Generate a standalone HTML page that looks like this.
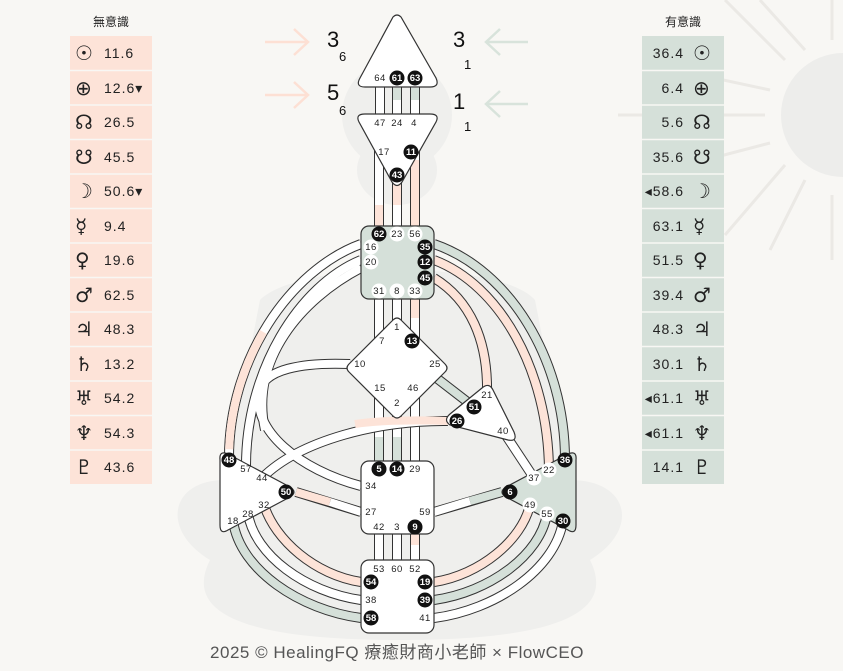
<!DOCTYPE html>
<html><head><meta charset="utf-8"><style>
body{margin:0;background:#f8f7f4;width:843px;height:671px;overflow:hidden;font-family:"Liberation Sans","Noto Sans CJK TC",sans-serif}
svg{position:absolute;left:0;top:0}
.o{fill:none;stroke:#333;stroke-width:10}
.i{fill:none;stroke:#fff;stroke-width:8}
.p{fill:none;stroke:#fde3d8;stroke-width:8}
.g{fill:none;stroke:#d5e0d9;stroke-width:8}
.t{font-size:9.5px;fill:#222;text-anchor:middle;letter-spacing:.5px}
.b{font-size:9.5px;fill:#fff;text-anchor:middle;font-weight:bold}
.c{fill:#fff;stroke:#333;stroke-width:1.2}
.col text{font-size:14px;fill:#222;letter-spacing:1px}
</style></head><body>
<svg width="843" height="671" viewBox="0 0 843 671">
<!-- sun -->
<g stroke="#ebe9e5" stroke-width="3">
<line x1="725" y1="0" x2="785" y2="60"/><line x1="760" y1="0" x2="805" y2="50"/>
<line x1="618" y1="115" x2="765" y2="115"/><line x1="700" y1="75" x2="770" y2="90"/>
<line x1="725" y1="235" x2="785" y2="165"/><line x1="770" y1="250" x2="805" y2="180"/>
<line x1="705" y1="160" x2="770" y2="143"/>
<line x1="832" y1="195" x2="832" y2="260"/><line x1="832" y1="0" x2="832" y2="40"/>
</g>
<circle cx="843" cy="115" r="62" fill="#ededeb"/>
<!-- silhouette -->
<g fill="#efefed">
<circle cx="397" cy="115" r="55"/>
<ellipse cx="397" cy="170" rx="40" ry="35"/>
<path d="M260,300 C300,260 500,260 535,300 L570,480 C630,480 640,530 590,560 C610,600 590,640 400,640 C210,640 190,600 210,560 C160,530 170,480 225,480 Z"/>
</g>
<!-- arrows -->
<g fill="none" stroke="#fde0d4" stroke-width="2.5">
<path d="M265,42 H308 M294,29 L308,42 L294,55"/>
<path d="M265,95 H308 M294,82 L308,95 L294,108"/>
</g>
<g fill="none" stroke="#d8e3db" stroke-width="2.5">
<path d="M528,42 H486 M500,29 L486,42 L500,55"/>
<path d="M528,104 H486 M500,91 L486,104 L500,117"/>
</g>
<g fill="#111">
<text x="327" y="47" font-size="22">3</text><text x="339" y="61" font-size="13">6</text>
<text x="327" y="100" font-size="22">5</text><text x="339" y="115" font-size="13">6</text>
<text x="453" y="47" font-size="22">3</text><text x="464" y="69" font-size="13">1</text>
<text x="453" y="109" font-size="22">1</text><text x="464" y="131" font-size="13">1</text>
</g>
<!-- channels -->
<g>
<path class="o" d="M380,85V118 M397,85V118 M415,85V118 M379,150V230 M397,180V230 M415,150V230 M379,295V340 M397,295V330 M415,295V340 M379,390V465 M397,410V465 M415,390V465 M379,530V565 M397,530V565 M415,530V565"/>
<path class="i" d="M380,85V118 M397,85V118 M415,85V118 M379,150V230 M397,180V230 M415,150V230 M379,295V340 M397,295V330 M415,295V340 M379,390V465 M397,410V465 M415,390V465 M379,530V565 M397,530V565 M415,530V565"/>
<path class="g" d="M397,88V100 M415,88V100 M379,437V465 M397,437V465"/>
<path class="p" d="M379,205V228 M397,185V205 M415,160V228 M415,298V318 M415,533V545"/>
</g>
<g>
<path class="o" d="M361,244 C290,270 228,360 229,460"/>
<path class="o" d="M361,260 C300,285 245,370 246,469"/>
<path class="o" d="M434,244 C510,270 565,360 565,460"/>
<path class="o" d="M434,260 C500,285 548,370 549,470"/>
<path class="o" d="M434,278 C470,300 488,340 487,393"/>
<path class="o" d="M350,364 C300,362 265,370 260,390 C250,430 300,470 361,486"/>
<path class="o" d="M361,268 C300,300 250,360 265,430"/>
<path class="o" d="M430,373 L474,407"/>
<path class="o" d="M448,421 C380,420 300,440 262,478"/>
<path class="o" d="M503,431 L534,478"/>
<path class="o" d="M296,492 L361,512"/>
<path class="o" d="M434,512 L502,492"/>
<path class="o" d="M361,618 C300,610 240,570 233,521"/>
<path class="o" d="M361,600 C305,592 255,555 248,514"/>
<path class="o" d="M361,582 C315,575 275,540 264,505"/>
<path class="o" d="M434,618 C495,610 555,570 563,521"/>
<path class="o" d="M434,600 C490,592 540,555 547,514"/>
<path class="o" d="M434,582 C480,575 522,540 530,505"/>

<path class="i" d="M361,244 C290,270 228,360 229,460"/>
<path class="p" pathLength="100" stroke-dasharray="0 50 46 4" d="M361,244 C290,270 228,360 229,460"/>
<path class="i" d="M361,260 C300,285 245,370 246,469"/>
<path class="g" d="M434,244 C510,270 565,360 565,460"/>
<path class="p" d="M434,260 C500,285 548,370 549,470"/>
<path class="p" d="M434,278 C470,300 488,340 487,393"/>
<path class="i" d="M350,364 C300,362 265,370 260,390 C250,430 300,470 361,486"/>
<path class="i" d="M361,268 C300,300 250,360 265,430"/>
<path class="g" d="M430,373 L474,407"/>
<path class="i" d="M448,421 C380,420 300,440 262,478"/>
<path class="p" d="M448,421 C420,420 380,420 355,424"/>
<path class="i" d="M503,431 L534,478"/>
<path class="p" d="M296,492 L330,502"/><path class="i" d="M330,502 L361,512"/>
<path class="i" d="M434,512 L470,501"/><path class="g" d="M470,501 L502,492"/>
<path class="g" d="M361,618 C300,610 240,570 233,521"/>
<path class="i" d="M361,600 C305,592 255,555 248,514"/>
<path class="p" d="M361,582 C315,575 275,540 264,505"/>
<path class="i" d="M434,618 C495,610 555,570 563,521"/>
<path class="g" d="M434,600 C490,592 540,555 547,514"/>
<path class="p" d="M434,582 C480,575 522,540 530,505"/>
</g>
<!-- centers -->
<path class="c" d="M393,17 Q397,13 401,17 L436,78 Q440,87 430,87 L365,87 Q355,87 360,78 Z"/>
<path class="c" d="M365,114 L430,114 Q440,114 436,122 L402,182 Q397,189 392,182 L359,122 Q355,114 365,114 Z"/>
<rect x="361" y="226" width="73" height="73" rx="8" fill="#d5e0d9" stroke="#333" stroke-width="1.2"/>
<path class="c" d="M393,320 Q397,316 401,320 L445,364 Q449,368 445,372 L401,416 Q397,420 393,416 L349,372 Q345,368 349,364 Z"/>
<path class="c" d="M450,425 Q443,420 450,414 L482,388 Q489,382 493,390 L514,432 Q518,442 508,440 Z"/>
<rect x="361" y="461" width="73" height="73" rx="8" class="c"/>
<rect x="361" y="560" width="73" height="73" rx="8" class="c"/>
<path class="c" d="M220,460 Q219,450 228,454 L290,487 Q298,492 290,497 L228,530 Q220,535 220,525 Z"/>
<path d="M576,460 Q577,450 568,454 L506,487 Q498,492 506,497 L568,530 Q576,535 576,525 Z" fill="#d5e0d9" stroke="#333" stroke-width="1.2"/>
<!-- gate labels -->
<g>
<g fill="#111">
<circle cx="397" cy="78" r="7.5"/><circle cx="415" cy="78" r="7.5"/>
<circle cx="411" cy="152" r="7.5"/><circle cx="397" cy="175" r="7.5"/>
<circle cx="379" cy="234" r="7.5"/><circle cx="425" cy="247" r="7.5"/><circle cx="425" cy="262" r="7.5"/><circle cx="425" cy="278" r="7.5"/>
<circle cx="412" cy="341" r="7.5"/><circle cx="474" cy="407" r="7.5"/><circle cx="457" cy="421" r="7.5"/>
<circle cx="379" cy="469" r="7.5"/><circle cx="397" cy="469" r="7.5"/><circle cx="415" cy="527" r="7.5"/>
<circle cx="371" cy="582" r="7.5"/><circle cx="425" cy="582" r="7.5"/><circle cx="425" cy="600" r="7.5"/><circle cx="371" cy="618" r="7.5"/>
<circle cx="229" cy="460" r="7.5"/><circle cx="286" cy="492" r="7.5"/>
<circle cx="565" cy="460" r="7.5"/><circle cx="510" cy="492" r="7.5"/><circle cx="563" cy="521" r="7.5"/></g>
<g fill="#fff"><circle cx="397" cy="234" r="7.5"/><circle cx="415" cy="234" r="7.5"/><circle cx="371" cy="247" r="7.5"/><circle cx="371" cy="262" r="7.5"/><circle cx="379" cy="291" r="7.5"/><circle cx="397" cy="291" r="7.5"/><circle cx="415" cy="291" r="7.5"/>
<circle cx="549" cy="470" r="7.5"/><circle cx="534" cy="478" r="7.5"/><circle cx="530" cy="505" r="7.5"/><circle cx="547" cy="514" r="7.5"/></g>
</g>
<g class="t">
<text x="380" y="81">64</text><text x="380" y="126">47</text><text x="397" y="126">24</text><text x="414" y="126">4</text><text x="384" y="155">17</text>
<text x="397" y="237">23</text><text x="415" y="237">56</text><text x="371" y="250">16</text><text x="371" y="265">20</text><text x="379" y="294">31</text><text x="397" y="294">8</text><text x="415" y="294">33</text>
<text x="397" y="330">1</text><text x="382" y="344">7</text><text x="360" y="367">10</text><text x="435" y="367">25</text><text x="380" y="391">15</text><text x="413" y="391">46</text><text x="397" y="406">2</text>
<text x="487" y="398">21</text><text x="503" y="434">40</text>
<text x="415" y="472">29</text><text x="371" y="489">34</text><text x="371" y="515">27</text><text x="425" y="515">59</text><text x="379" y="530">42</text><text x="397" y="530">3</text>
<text x="379" y="572">53</text><text x="397" y="572">60</text><text x="415" y="572">52</text><text x="371" y="603">38</text><text x="425" y="621">41</text>
<text x="246" y="472">57</text><text x="262" y="481">44</text><text x="264" y="508">32</text><text x="248" y="517">28</text><text x="233" y="524">18</text>
<text x="549" y="473">22</text><text x="534" y="481">37</text><text x="530" y="508">49</text><text x="547" y="517">55</text>
</g>
<g class="b">
<text x="397" y="81">61</text><text x="415" y="81">63</text><text x="411" y="155">11</text><text x="397" y="178">43</text>
<text x="379" y="237">62</text><text x="425" y="250">35</text><text x="425" y="265">12</text><text x="425" y="281">45</text>
<text x="412" y="344">13</text><text x="474" y="410">51</text><text x="457" y="424">26</text>
<text x="379" y="472">5</text><text x="397" y="472">14</text><text x="415" y="530">9</text>
<text x="371" y="585">54</text><text x="425" y="585">19</text><text x="425" y="603">39</text><text x="371" y="621">58</text>
<text x="229" y="463">48</text><text x="286" y="495">50</text><text x="565" y="463">36</text><text x="510" y="495">6</text><text x="563" y="524">30</text>
</g>
<!-- columns -->
<text x="111" y="26" font-size="12" text-anchor="middle" fill="#222">無意識</text>
<text x="683" y="26" font-size="12" text-anchor="middle" fill="#222">有意識</text>
<g class="col">
<rect x="70" y="36" width="82" height="448" fill="#fde3d8"/>
<rect x="642" y="36" width="82" height="448" fill="#d5e0d9"/>
<g stroke="#f8f7f4" stroke-width="1.5">
<line x1="70" y1="70.5" x2="152" y2="70.5"/><line x1="70" y1="105" x2="152" y2="105"/><line x1="70" y1="139.5" x2="152" y2="139.5"/><line x1="70" y1="174" x2="152" y2="174"/><line x1="70" y1="208.5" x2="152" y2="208.5"/><line x1="70" y1="243" x2="152" y2="243"/><line x1="70" y1="277.5" x2="152" y2="277.5"/><line x1="70" y1="312" x2="152" y2="312"/><line x1="70" y1="346.5" x2="152" y2="346.5"/><line x1="70" y1="381" x2="152" y2="381"/><line x1="70" y1="415.5" x2="152" y2="415.5"/><line x1="70" y1="450" x2="152" y2="450"/>
<line x1="642" y1="70.5" x2="724" y2="70.5"/><line x1="642" y1="105" x2="724" y2="105"/><line x1="642" y1="139.5" x2="724" y2="139.5"/><line x1="642" y1="174" x2="724" y2="174"/><line x1="642" y1="208.5" x2="724" y2="208.5"/><line x1="642" y1="243" x2="724" y2="243"/><line x1="642" y1="277.5" x2="724" y2="277.5"/><line x1="642" y1="312" x2="724" y2="312"/><line x1="642" y1="346.5" x2="724" y2="346.5"/><line x1="642" y1="381" x2="724" y2="381"/><line x1="642" y1="415.5" x2="724" y2="415.5"/><line x1="642" y1="450" x2="724" y2="450"/>
</g>
<g font-family="DejaVu Sans,sans-serif" style="font-size:20px" fill="#333">
<text x="75" y="60" style="font-size:20px">☉</text><text x="75" y="95" style="font-size:20px">⊕</text><text x="75" y="129" style="font-size:20px">☊</text><text x="75" y="164" style="font-size:20px">☋</text><text x="75" y="198" style="font-size:20px">☽</text><text x="75" y="233" style="font-size:20px">☿</text><text x="75" y="267" style="font-size:20px">♀</text><text x="75" y="302" style="font-size:20px">♂</text><text x="75" y="336" style="font-size:20px">♃</text><text x="75" y="371" style="font-size:20px">♄</text><text x="75" y="405" style="font-size:20px">♅</text><text x="75" y="440" style="font-size:20px">♆</text><text x="75" y="474" style="font-size:20px">♇</text>
<text x="693" y="60" style="font-size:20px">☉</text><text x="693" y="95" style="font-size:20px">⊕</text><text x="693" y="129" style="font-size:20px">☊</text><text x="693" y="164" style="font-size:20px">☋</text><text x="693" y="198" style="font-size:20px">☽</text><text x="693" y="233" style="font-size:20px">☿</text><text x="693" y="267" style="font-size:20px">♀</text><text x="693" y="302" style="font-size:20px">♂</text><text x="693" y="336" style="font-size:20px">♃</text><text x="693" y="371" style="font-size:20px">♄</text><text x="693" y="405" style="font-size:20px">♅</text><text x="693" y="440" style="font-size:20px">♆</text><text x="693" y="474" style="font-size:20px">♇</text>
</g>
<text x="104" y="58">11.6</text><text x="104" y="93">12.6▾</text><text x="104" y="127">26.5</text><text x="104" y="162">45.5</text><text x="104" y="196">50.6▾</text><text x="104" y="231">9.4</text><text x="104" y="265">19.6</text><text x="104" y="300">62.5</text><text x="104" y="334">48.3</text><text x="104" y="369">13.2</text><text x="104" y="403">54.2</text><text x="104" y="438">54.3</text><text x="104" y="472">43.6</text>
<g text-anchor="end">
<text x="684" y="58">36.4</text><text x="684" y="93">6.4</text><text x="684" y="127">5.6</text><text x="684" y="162">35.6</text><text x="684" y="196">◂58.6</text><text x="684" y="231">63.1</text><text x="684" y="265">51.5</text><text x="684" y="300">39.4</text><text x="684" y="334">48.3</text><text x="684" y="369">30.1</text><text x="684" y="403">◂61.1</text><text x="684" y="438">◂61.1</text><text x="684" y="472">14.1</text>
</g>
</g>
<text x="397" y="658" font-size="17" text-anchor="middle" fill="#555" letter-spacing=".5">2025 © HealingFQ 療癒財商小老師 × FlowCEO</text>
</svg>
</body></html>
